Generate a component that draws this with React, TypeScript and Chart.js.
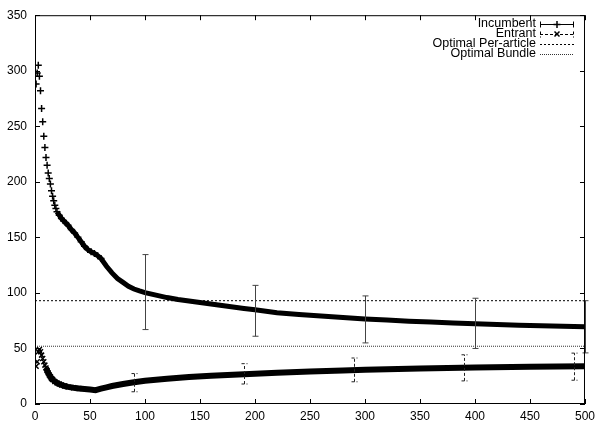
import React, { useEffect, useRef } from 'react';
import { Chart, registerables } from 'chart.js';

Chart.register(...registerables);

// ---- data ----
const incX = [1, 2, 3, 4, 5, 6, 7, 8, 9, 10, 11, 12, 13, 14, 15, 16, 17, 18, 19, 20, 22, 24, 26, 28, 30, 33, 36, 39, 42, 45, 48, 51, 54, 57, 60, 65, 70, 75, 80, 85, 90, 95, 100, 110, 120, 130, 140, 150, 160, 170, 180, 190, 200, 220, 240, 260, 280, 300, 320, 340, 360, 380, 400, 420, 440, 460, 480, 500];
const incY = [288, 298, 305, 295, 282, 266, 254, 241, 231, 222, 215, 208, 203, 198, 192, 187, 183, 179, 176, 173, 170, 167, 165, 163, 161, 157, 154, 150, 146, 142, 139, 137, 135.5, 133.5, 131, 124, 118, 113, 109.5, 106, 103.5, 101.8, 100.3, 98, 95.8, 94, 92.8, 91.3, 90, 88.6, 87.3, 86, 84.8, 82.2, 80.6, 79.2, 77.8, 76.6, 75.6, 74.6, 73.8, 73, 72.3, 71.6, 71, 70.5, 70, 69.6];

const entX = [1, 2, 3, 4, 5, 6, 7, 8, 9, 10, 11, 12, 13, 14, 15, 16, 18, 20, 22, 24, 27, 30, 35, 40, 45, 50, 55, 60, 65, 70, 80, 90, 100, 120, 140, 160, 180, 200, 220, 250, 280, 300, 350, 400, 450, 500];
const entY = [34, 38, 47, 49, 47, 44, 41, 38, 35, 32.5, 30, 28, 26, 24.5, 23, 22, 20.3, 19, 18, 17.2, 16.2, 15.4, 14.6, 14, 13.5, 13, 12.5, 13.8, 15, 16.2, 18, 19.6, 21, 22.8, 24.2, 25.4, 26.4, 27.3, 28.1, 29.2, 30.2, 30.8, 32, 32.9, 33.5, 34];

const incErrX = [100, 200, 300, 400, 500];
const incErrLow = [67, 61, 55, 50, 46];
const incErrHigh = [134.5, 106.8, 97.3, 95.2, 93];

const entErrX = [90, 190, 290, 390, 490];
const entErrLow = [11, 18, 20, 20.8, 21.4];
const entErrHigh = [27.4, 36.3, 41.4, 44.3, 45.8];

const optimalPerArticle = 93;
const optimalBundle = 52;

const xTicks = [0, 50, 100, 150, 200, 250, 300, 350, 400, 450, 500];
const yTicks = [0, 50, 100, 150, 200, 250, 300, 350];

const seriesLabels = ['Incumbent', 'Entrant', 'Optimal Per-article', 'Optimal Bundle'];

const FONT = "'Liberation Sans', Arial, Helvetica, sans-serif";

const decorPlugin = {
  id: 'gnuplotDecor',
  afterDatasetsDraw(chart: any) {
    const { ctx, scales } = chart;
    const xs = scales.x;
    const ys = scales.y;
    const drawBars = (bx: number[], lo: number[], hi: number[], dash: number[], color: string) => {
      ctx.save();
      ctx.strokeStyle = color;
      ctx.lineWidth = 1;
      ctx.setLineDash(dash);
      bx.forEach((v, i) => {
        const px = Math.round(xs.getPixelForValue(v)) + 0.5;
        const p1 = ys.getPixelForValue(lo[i]);
        const p2 = ys.getPixelForValue(hi[i]);
        ctx.beginPath();
        ctx.moveTo(px, p1);
        ctx.lineTo(px, p2);
        ctx.moveTo(px - 3, p1);
        ctx.lineTo(px + 3, p1);
        ctx.moveTo(px - 3, p2);
        ctx.lineTo(px + 3, p2);
        ctx.stroke();
      });
      ctx.restore();
    };
    drawBars(incErrX, incErrLow, incErrHigh, [], '#444');
    drawBars(entErrX, entErrLow, entErrHigh, [3, 2], '#222');
  },
  afterDraw(chart: any) {
    const { ctx, chartArea, scales } = chart;
    const { left, right, top, bottom } = chartArea;
    ctx.save();
    ctx.strokeStyle = '#000';
    ctx.lineWidth = 1;
    ctx.setLineDash([]);
    ctx.strokeRect(left + 0.5, top + 0.5, right - left - 1, bottom - top - 1);
    const tl = 5;
    ctx.beginPath();
    xTicks.forEach((v) => {
      const px = Math.round(scales.x.getPixelForValue(v)) + 0.5;
      ctx.moveTo(px, bottom);
      ctx.lineTo(px, bottom - tl);
      ctx.moveTo(px, top);
      ctx.lineTo(px, top + tl);
    });
    yTicks.forEach((v) => {
      const py = Math.round(scales.y.getPixelForValue(v)) + 0.5;
      ctx.moveTo(left, py);
      ctx.lineTo(left + tl, py);
      ctx.moveTo(right, py);
      ctx.lineTo(right - tl, py);
    });
    ctx.stroke();

    // legend (gnuplot style: text right-aligned, sample on the right)
    const textRight = 536;
    const s0 = 540;
    const s1 = 574;
    const rows = [24, 34, 44, 54];
    ctx.fillStyle = '#000';
    ctx.font = `12.5px ${FONT}`;
    ctx.textAlign = 'right';
    ctx.textBaseline = 'middle';
    seriesLabels.forEach((t, i) => ctx.fillText(t, textRight, rows[i]));

    const sample = (y: number, dash: number[], color: string, caps: boolean) => {
      const yy = y + 0.5;
      ctx.save();
      ctx.strokeStyle = color;
      ctx.setLineDash(dash);
      ctx.beginPath();
      ctx.moveTo(s0, yy);
      ctx.lineTo(s1, yy);
      if (caps) {
        ctx.moveTo(s0 + 0.5, yy - 3);
        ctx.lineTo(s0 + 0.5, yy + 3);
        ctx.moveTo(s1 - 0.5, yy - 3);
        ctx.lineTo(s1 - 0.5, yy + 3);
      }
      ctx.stroke();
      ctx.restore();
    };
    sample(rows[0], [], '#000', true);
    sample(rows[1], [3, 2], '#000', true);
    sample(rows[2], [2, 2], '#000', false);
    sample(rows[3], [1, 1], '#333', false);
    const mid = (s0 + s1) / 2;
    ctx.setLineDash([]);
    ctx.lineWidth = 1.5;
    ctx.beginPath();
    ctx.moveTo(mid - 3.5, rows[0] + 0.5);
    ctx.lineTo(mid + 3.5, rows[0] + 0.5);
    ctx.moveTo(mid, rows[0] - 3);
    ctx.lineTo(mid, rows[0] + 4);
    ctx.moveTo(mid - 2.5, rows[1] - 2.5);
    ctx.lineTo(mid + 2.5, rows[1] + 2.5);
    ctx.moveTo(mid - 2.5, rows[1] + 2.5);
    ctx.lineTo(mid + 2.5, rows[1] - 2.5);
    ctx.stroke();
    ctx.restore();
  },
};

export default function App() {
  const ref = useRef<HTMLCanvasElement | null>(null);
  useEffect(() => {
    if (!ref.current) return;
    const incData = incX.map((x, i) => ({ x, y: incY[i] }));
    const entData = entX.map((x, i) => ({ x, y: entY[i] }));
    const chart = new Chart(ref.current, {
      type: 'line',
      data: {
        datasets: [
          {
            label: seriesLabels[0],
            data: incData,
            borderColor: '#000',
            borderWidth: 5,
            pointStyle: 'cross',
            pointRadius: (c: any) => (c.raw && c.raw.x <= 60 ? 3.5 : 0),
            pointBorderWidth: 1.5,
            pointBorderColor: '#000',
            segment: {
              borderColor: (c: any) => (c.p0.parsed.x < 20 ? 'rgba(0,0,0,0)' : '#000'),
            },
          },
          {
            label: seriesLabels[1],
            data: entData,
            borderColor: '#000',
            borderWidth: 6,
            pointStyle: 'crossRot',
            pointRadius: (c: any) => (c.raw && c.raw.x <= 40 ? 3.5 : 0),
            pointBorderWidth: 1.5,
            pointBorderColor: '#000',
            segment: {
              borderColor: (c: any) => (c.p0.parsed.x < 10 ? 'rgba(0,0,0,0)' : '#000'),
            },
          },
          {
            label: seriesLabels[2],
            data: [
              { x: xTicks[0], y: optimalPerArticle },
              { x: xTicks[xTicks.length - 1], y: optimalPerArticle },
            ],
            borderColor: '#000',
            borderWidth: 1,
            borderDash: [2, 2],
            pointRadius: 0,
          },
          {
            label: seriesLabels[3],
            data: [
              { x: xTicks[0], y: optimalBundle },
              { x: xTicks[xTicks.length - 1], y: optimalBundle },
            ],
            borderColor: '#333',
            borderWidth: 1,
            borderDash: [1, 1],
            pointRadius: 0,
          },
        ],
      },
      options: {
        animation: false,
        responsive: false,
        maintainAspectRatio: false,
        layout: { padding: { top: 12, right: 12, left: 0, bottom: 0 } },
        plugins: { legend: { display: false }, tooltip: { enabled: false } },
        scales: {
          x: {
            type: 'linear',
            min: 0,
            max: 500,
            afterBuildTicks: (s: any) => {
              s.ticks = xTicks.map((v) => ({ value: v }));
            },
            afterFit: (s: any) => {
              s.height = 21;
            },
            grid: { display: false, drawTicks: false },
            border: { display: false },
            ticks: { color: '#000', padding: 5, maxRotation: 0, autoSkip: false, font: { family: FONT, size: 12 } },
          },
          y: {
            type: 'linear',
            min: 0,
            max: 350,
            afterBuildTicks: (s: any) => {
              s.ticks = yTicks.map((v) => ({ value: v }));
            },
            afterFit: (s: any) => {
              s.width = 35;
            },
            grid: { display: false, drawTicks: false },
            border: { display: false },
            ticks: { color: '#000', padding: 8, autoSkip: false, font: { family: FONT, size: 12 } },
          },
        },
      } as any,
      plugins: [decorPlugin],
    });
    return () => chart.destroy();
  }, []);
  return (
    <div style={{ position: 'fixed', left: 0, top: 0, width: 600, height: 425, background: '#fff' }}>
      <canvas ref={ref} width={600} height={425} style={{ display: 'block', width: 600, height: 425 }} />
    </div>
  );
}
